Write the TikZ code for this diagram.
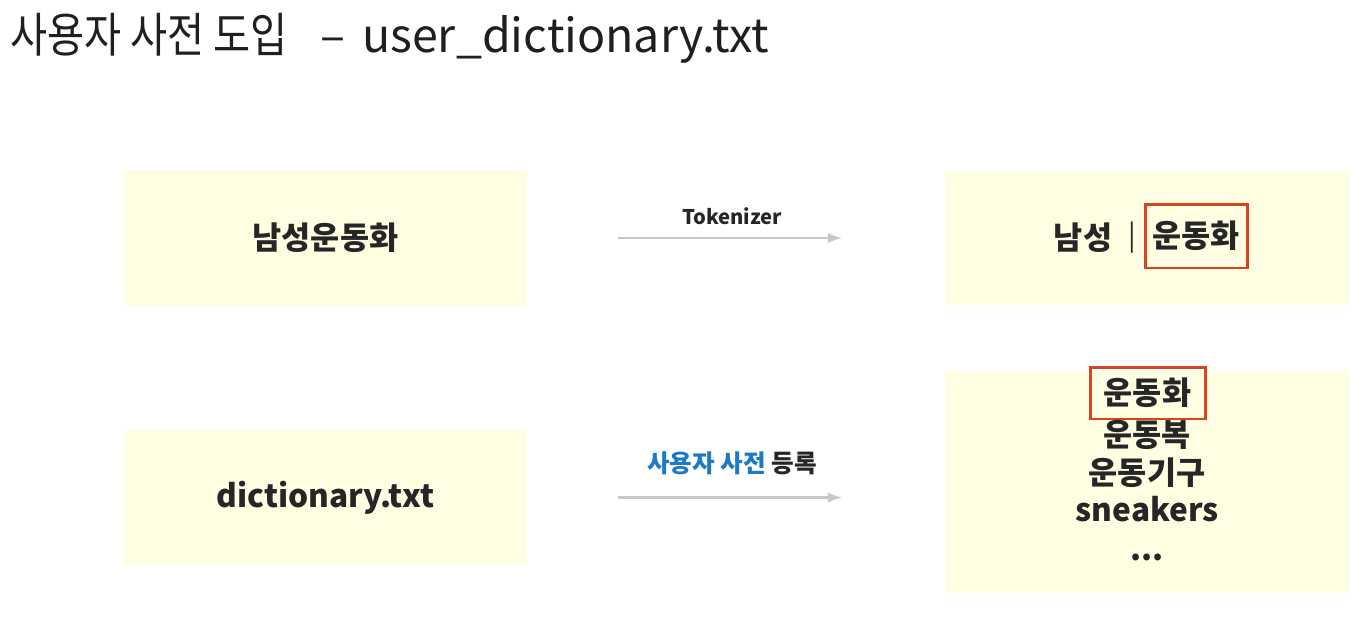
\documentclass[tikz,border=0pt]{standalone}
\usepackage{fontspec}
\setmainfont{Noto Sans CJK KR}
\newfontfamily\narrowkr[FakeStretch=0.85]{Noto Sans CJK KR}
\usetikzlibrary{positioning,arrows}

\definecolor{boxyellow}{HTML}{FFFEE2}
\definecolor{arrowgray}{HTML}{C8C8C8}
\definecolor{markred}{HTML}{D8441C}
\definecolor{dictblue}{HTML}{1E7AC3}
\definecolor{inkgray}{HTML}{262626}

\begin{document}
\begin{tikzpicture}[x=0.02cm,y=-0.02cm,text=inkgray,
	box/.style={fill=boxyellow,draw=none,minimum width=8.08cm,inner sep=0pt,font=\fontsize{18}{22}\selectfont\bfseries},
	word/.style={inner sep=0pt,font=\fontsize{18}{22}\selectfont\bfseries},
	redmark/.style={word,draw=markred,line width=1.7pt},
	label/.style={inner sep=0pt,font=\fontsize{11.5}{14}\selectfont\bfseries}]

\useasboundingbox (0,0) rectangle (1364,625);

\node[anchor=base west,inner sep=0pt,text=black!88] (title) at (10,53) {{\narrowkr\fontsize{27}{32}\selectfont 사용자 사전 도입}\hspace{18.5pt}{\fontsize{26.5}{32}\selectfont –\hspace{3.5pt} user\_dictionary.txt}};

\node[box,minimum height=2.72cm](in1) at (325.5,238) {남성운동화};
\node[box,minimum height=2.7cm](in2) at (325.5,497.5) {dictionary.txt};
\node[box,minimum height=2.7cm](out1) at (1147,238) {};
\node[box,minimum height=4.44cm](out2) at (1147,482) {};

% tokenized result
\node[word](nam) at (1083,238) {남성};
\node[word,font=\fontsize{16}{20}\selectfont](sep) at (1132,238) {|};
\node[redmark,minimum width=2.04cm,minimum height=1.28cm](shoe1) at (1196,236) {운동화};

% dictionary entries
\node[redmark,minimum width=2.3cm,minimum height=1.04cm](shoe2) at (1147.5,393) {운동화};
\foreach \n/\y/\t in {w2/446/운동복,w3/484/운동기구,w4/521/sneakers}{
	\node[word,anchor=base](\n) at (1147,\y) {\t};
}
\node[word,anchor=base](w5) at (1147,560) {{.}{.}{.}};

\draw[->,>=latex,line width=1.7pt,color=arrowgray,shorten <=1.81cm,shorten >=2.06cm](in1)to(out1);
\draw[->,>=latex,line width=1.7pt,color=arrowgray,shorten <=1.81cm,shorten >=2.06cm](in2)to(out2.west|-in2);
\node[label](tok) at (732,216) {Tokenizer};
\node[label,font=\fontsize{14}{17}\selectfont\bfseries](reg) at (732,463) {\textcolor{dictblue}{사용자 사전} 등록};
\end{tikzpicture}
\end{document}
